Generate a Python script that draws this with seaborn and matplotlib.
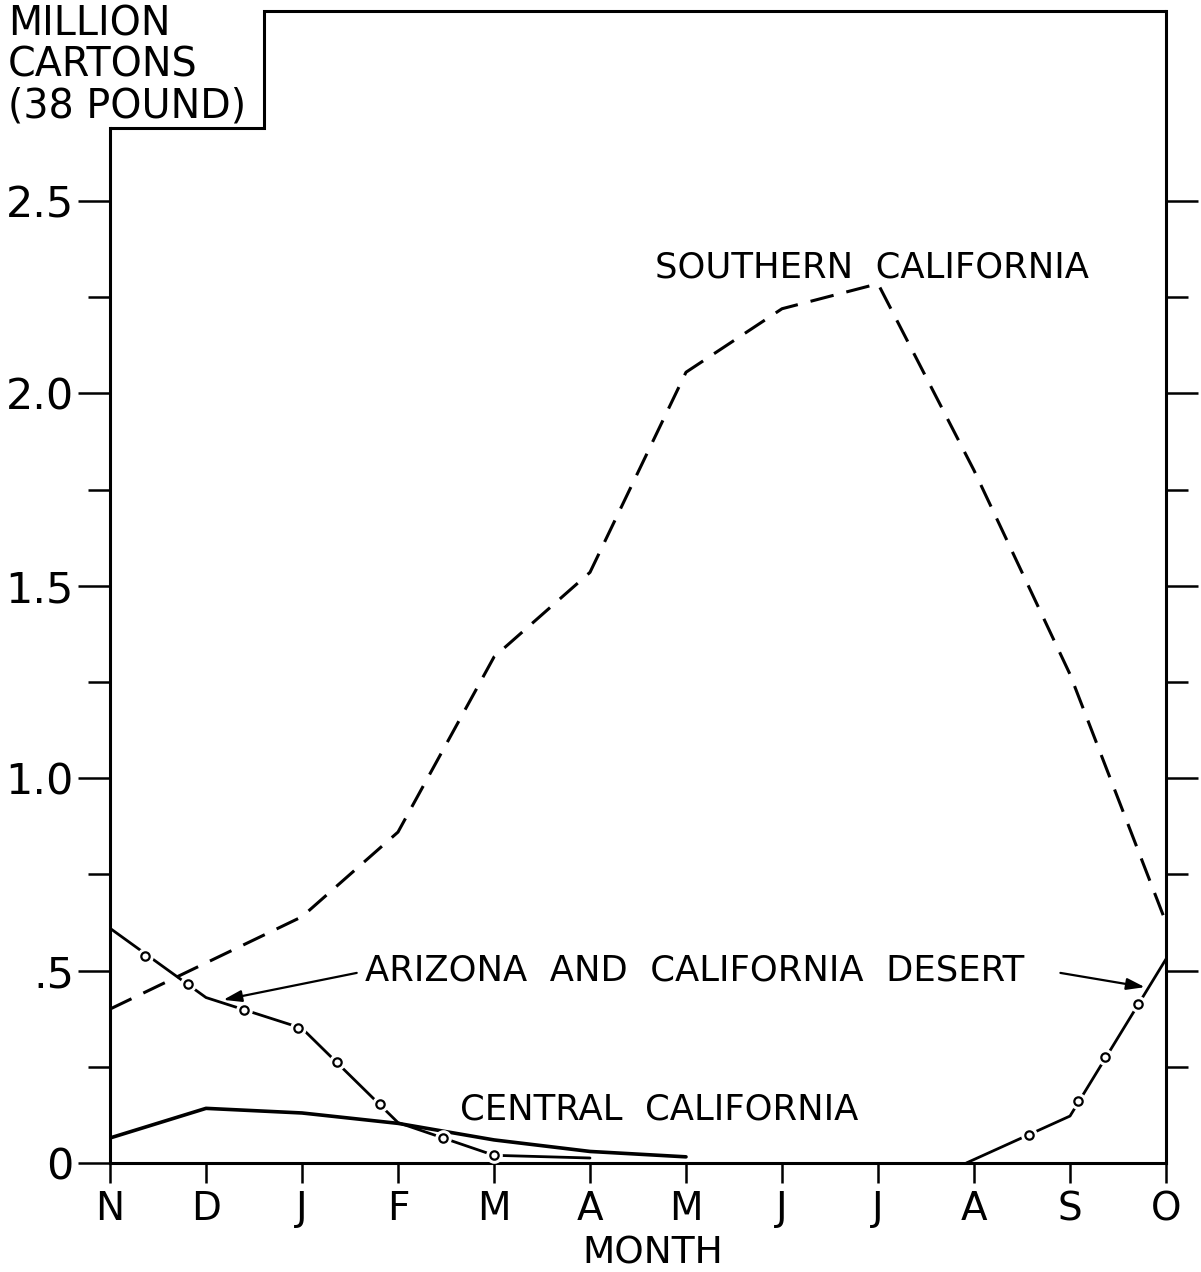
import numpy as np
import pandas as pd
import matplotlib
matplotlib.use("Agg")
import matplotlib.pyplot as plt
import seaborn as sns

# ---------------- data ----------------
months = ["N", "D", "J", "F", "M", "A", "M", "J", "J", "A", "S", "O"]
month_pos = list(range(12))

southern_vals = [0.40, 0.52, 0.64, 0.86, 1.315, 1.535, 2.055, 2.22, 2.285, 1.80, 1.27, 0.625]

central_pos = [0, 1, 2, 3, 4, 5, 6]
central_vals = [0.065, 0.142, 0.13, 0.103, 0.06, 0.03, 0.016]

desert_pos_a = [0, 1, 2, 3, 4, 5]
desert_vals_a = [0.61, 0.43, 0.35, 0.105, 0.02, 0.013]
desert_pos_b = [8.92, 10, 11]
desert_vals_b = [0.0, 0.122, 0.53]

desert_circle_pos = [0.365, 0.81, 1.40, 1.96, 2.36, 2.81, 3.47, 4.0, 9.57, 10.08, 10.36, 10.71]
desert_circle_vals = [0.538, 0.465, 0.398, 0.351, 0.262, 0.154, 0.066, 0.021, 0.072, 0.162, 0.275, 0.413]

ytick_major = [0, 0.5, 1.0, 1.5, 2.0, 2.5]
ytick_labels = ["0", ".5", "1.0", "1.5", "2.0", "2.5"]
ytick_minor = [0.25, 0.75, 1.25, 1.75, 2.25]

# ---------------- style ----------------
sns.set_style("white")
plt.rcParams["font.family"] = ["DejaVu Sans"]
plt.rcParams["text.color"] = "black"
plt.rcParams["xtick.color"] = "black"
plt.rcParams["ytick.color"] = "black"
plt.rcParams["axes.labelcolor"] = "black"

W, H = 1201, 1272
fig = plt.figure(figsize=(W / 100, H / 100), dpi=100)
ax_left, ax_right = 110 / W, 1166 / W
ax_bottom, ax_top = (H - 1163) / H, (H - 11) / H
ax = fig.add_axes([ax_left, ax_bottom, ax_right - ax_left, ax_top - ax_bottom])

ymax = (1163 - 11) / 384.8
ax.set_xlim(0, 11)
ax.set_ylim(0, ymax)

df_s = pd.DataFrame({"m": month_pos, "v": southern_vals})
df_c = pd.DataFrame({"m": central_pos, "v": central_vals})
df_da = pd.DataFrame({"m": desert_pos_a, "v": desert_vals_a})
df_db = pd.DataFrame({"m": desert_pos_b, "v": desert_vals_b})

sns.lineplot(data=df_s, x="m", y="v", ax=ax, color="black", lw=2.2,
             linestyle=(0, (7.8, 4.3)), zorder=2, clip_on=False)
sns.lineplot(data=df_c, x="m", y="v", ax=ax, color="black", lw=2.6, zorder=2)
sns.lineplot(data=df_da, x="m", y="v", ax=ax, color="black", lw=2.0, zorder=2)
sns.lineplot(data=df_db, x="m", y="v", ax=ax, color="black", lw=2.0, zorder=2)

df_circ = pd.DataFrame({"m": desert_circle_pos, "v": desert_circle_vals})
# white halo to break the line at each circle
ax.plot(df_circ["m"], df_circ["v"], ls="none", marker="o", ms=11,
        mfc="white", mec="white", zorder=3)
ax.plot(df_circ["m"], df_circ["v"], ls="none", marker="o", ms=6,
        mfc="white", mec="black", mew=1.6, zorder=4)

# ---------------- axes / frame ----------------
ax.spines["top"].set_visible(False)
for s in ["left", "right", "bottom"]:
    ax.spines[s].set_linewidth(2.2)
    ax.spines[s].set_color("black")
box_y = (1163 - 128) / 384.8
box_x = (264 - 110) / 96
ax.spines["left"].set_bounds(0, box_y)
ax.plot([0, box_x, box_x, 11], [box_y, box_y, ymax, ymax], color="black",
        lw=2.2, clip_on=False, zorder=5, solid_joinstyle="miter")

ax.set_xticks(month_pos)
ax.set_xticklabels(months)
ax.set_yticks(ytick_major)
ax.set_yticklabels(ytick_labels)
ax.set_yticks(ytick_minor, minor=True)

ax.tick_params(axis="x", which="major", direction="out", length=14.5, width=1.8,
               pad=5, labelsize=28, bottom=True)
ax.tick_params(axis="y", which="major", direction="out", length=23, width=1.8,
               pad=3, labelsize=31, left=True, right=True)
ax.tick_params(axis="y", which="minor", direction="out", length=16, width=1.8,
               left=True, right=True)
ax.yaxis.get_major_ticks()[0].tick2line.set_visible(False)
ax.set_xlabel("")
ax.set_ylabel("")

# ---------------- texts ----------------
fig.text(8 / W, 1 - 5 / H, "MILLION\nCARTONS\n(38 POUND)", ha="left", va="top",
         fontsize=28.5, linespacing=1.02)
fig.text(653 / W, 1 - 1271 / H, "MONTH", ha="center", va="bottom", fontsize=27)

ax.text(5.68, 2.326, "SOUTHERN  CALIFORNIA", fontsize=25.5, ha="left", va="center")
ax.text(3.65, 0.138, "CENTRAL  CALIFORNIA", fontsize=25.5, ha="left", va="center")
ax.text(2.66, 0.50, "ARIZONA  AND  CALIFORNIA  DESERT", fontsize=25.5, ha="left", va="center")

arrow_kw = dict(arrowstyle="-|>,head_length=1.1,head_width=0.35", color="black",
                lw=1.6, shrinkA=0, shrinkB=0)
ax.annotate("", xy=(1.18, 0.424), xytext=(2.57, 0.494), arrowprops=arrow_kw)
ax.annotate("", xy=(10.78, 0.457), xytext=(9.90, 0.494), arrowprops=arrow_kw)

fig.savefig("out.png", dpi=100, facecolor="white")
